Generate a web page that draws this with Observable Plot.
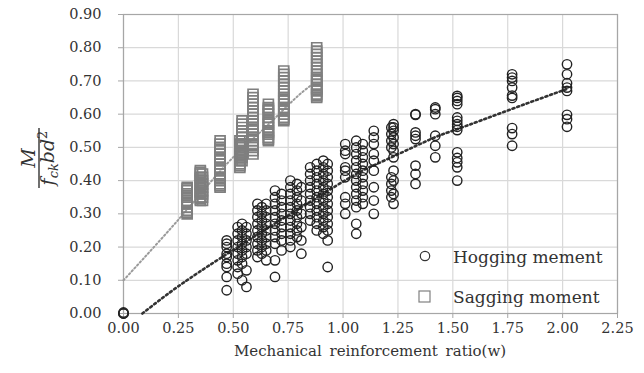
<!DOCTYPE html>
<html><head><meta charset="utf-8">
<script src="https://cdn.jsdelivr.net/npm/d3@7"></script>
<script src="https://cdn.jsdelivr.net/npm/@observablehq/plot@0.6"></script>
<style>
body{margin:0;background:#fff;}
</style>
</head><body><div id="chart"></div>
<script>
// ---- tick values ----
const xTicks = [0, 0.25, 0.5, 0.75, 1.0, 1.25, 1.5, 1.75, 2.0, 2.25];
const yTicks = [0, 0.1, 0.2, 0.3, 0.4, 0.5, 0.6, 0.7, 0.8, 0.9];

// ---- Hogging moment (circles): x of each column and its y values ----
const hogX = [0.0, 0.47, 0.52, 0.54, 0.56, 0.61, 0.63, 0.65, 0.69, 0.72, 0.76, 0.79, 0.81,
  0.85, 0.88, 0.91, 0.93, 1.01, 1.06, 1.09, 1.14, 1.22, 1.23, 1.33, 1.42, 1.52, 1.77, 2.02];
const hogY = [
  [0.0, 0.0, 0.003],
  [0.22, 0.21, 0.20, 0.18, 0.17, 0.15, 0.14, 0.11, 0.07],
  [0.26, 0.24, 0.22, 0.20, 0.18, 0.16, 0.14, 0.12],
  [0.27, 0.25, 0.23, 0.21, 0.19, 0.17, 0.15, 0.10],
  [0.26, 0.24, 0.22, 0.20, 0.18, 0.13, 0.08],
  [0.33, 0.31, 0.29, 0.27, 0.25, 0.23, 0.21, 0.19, 0.17],
  [0.32, 0.30, 0.28, 0.26, 0.24, 0.22, 0.20, 0.18],
  [0.33, 0.31, 0.29, 0.27, 0.25, 0.23, 0.21, 0.19, 0.16],
  [0.37, 0.35, 0.33, 0.31, 0.29, 0.27, 0.25, 0.23, 0.21, 0.16, 0.11],
  [0.36, 0.34, 0.32, 0.30, 0.28, 0.26, 0.24, 0.22, 0.19],
  [0.40, 0.38, 0.36, 0.34, 0.32, 0.30, 0.28, 0.26, 0.24, 0.22, 0.20],
  [0.39, 0.37, 0.35, 0.33, 0.31, 0.29, 0.27, 0.25, 0.23],
  [0.38, 0.34, 0.30, 0.26, 0.22, 0.18],
  [0.44, 0.42, 0.40, 0.38, 0.36, 0.34, 0.32, 0.30, 0.28],
  [0.45, 0.43, 0.41, 0.39, 0.37, 0.35, 0.33, 0.31, 0.29, 0.27, 0.25],
  [0.46, 0.44, 0.42, 0.40, 0.38, 0.36, 0.34, 0.32, 0.30, 0.28, 0.26, 0.24],
  [0.45, 0.43, 0.41, 0.39, 0.37, 0.35, 0.33, 0.31, 0.29, 0.27, 0.25, 0.22, 0.14],
  [0.51, 0.49, 0.48, 0.44, 0.43, 0.41, 0.35, 0.33, 0.30],
  [0.52, 0.50, 0.48, 0.46, 0.44, 0.42, 0.40, 0.38, 0.36, 0.34, 0.32, 0.27, 0.24],
  [0.51, 0.49, 0.47, 0.45, 0.43, 0.41, 0.39, 0.37, 0.35, 0.33],
  [0.55, 0.53, 0.51, 0.48, 0.46, 0.43, 0.38, 0.34, 0.30],
  [0.56, 0.54, 0.52, 0.50, 0.41, 0.39, 0.37, 0.35],
  [0.57, 0.56, 0.55, 0.53, 0.51, 0.49, 0.47, 0.43, 0.40, 0.36, 0.33],
  [0.60, 0.598, 0.545, 0.535, 0.525, 0.445, 0.42, 0.39],
  [0.62, 0.615, 0.60, 0.535, 0.505, 0.47],
  [0.655, 0.649, 0.64, 0.63, 0.59, 0.58, 0.57, 0.562, 0.552, 0.485, 0.468, 0.455, 0.44, 0.40],
  [0.72, 0.71, 0.70, 0.68, 0.656, 0.649, 0.558, 0.54, 0.505],
  [0.75, 0.72, 0.693, 0.68, 0.67, 0.598, 0.585, 0.562]
];

// ---- Sagging moment (squares) ----
const sagX = [0.29, 0.35, 0.36, 0.44, 0.53, 0.54, 0.59, 0.66, 0.73, 0.88];
const sagY = [
  [0.30, 0.305, 0.31, 0.32, 0.33, 0.335, 0.34, 0.35, 0.355, 0.36, 0.37, 0.375, 0.38],
  [0.34, 0.345, 0.35, 0.36, 0.365, 0.37, 0.38, 0.385, 0.39, 0.40, 0.405, 0.41, 0.42, 0.425, 0.43],
  [0.34, 0.35, 0.36, 0.37, 0.38, 0.39, 0.40, 0.41, 0.42],
  [0.38, 0.385, 0.39, 0.40, 0.405, 0.41, 0.42, 0.43, 0.435, 0.44, 0.45, 0.46, 0.465, 0.47, 0.48, 0.49, 0.495, 0.50, 0.51, 0.52],
  [0.44, 0.445, 0.45, 0.46, 0.465, 0.47, 0.48, 0.485, 0.49, 0.50, 0.505, 0.51, 0.52],
  [0.46, 0.47, 0.48, 0.49, 0.50, 0.51, 0.52, 0.53, 0.54, 0.55, 0.56, 0.57, 0.58],
  [0.48, 0.49, 0.50, 0.505, 0.51, 0.52, 0.53, 0.54, 0.55, 0.555, 0.56, 0.57, 0.58, 0.59, 0.60, 0.61, 0.62, 0.63, 0.64, 0.65, 0.66],
  [0.52, 0.525, 0.53, 0.54, 0.545, 0.55, 0.56, 0.57, 0.575, 0.58, 0.59, 0.60, 0.61, 0.615, 0.62, 0.63],
  [0.58, 0.585, 0.59, 0.60, 0.61, 0.615, 0.62, 0.63, 0.64, 0.645, 0.65, 0.66, 0.67, 0.68, 0.69, 0.70, 0.71, 0.72, 0.73],
  [0.65, 0.655, 0.66, 0.67, 0.675, 0.68, 0.69, 0.70, 0.705, 0.71, 0.72, 0.73, 0.74, 0.75, 0.76, 0.77, 0.78, 0.79, 0.80]
];

// ---- trend lines ----
const hogTrendX = [0.086, 0.19, 0.44, 0.97, 1.17, 1.39, 1.52, 1.77, 2.02];
const hogTrendY = [0.0, 0.053, 0.166, 0.385, 0.455, 0.522, 0.555, 0.616, 0.676];
const sagTrendX = [0.0, 0.26, 0.47, 0.63, 0.77, 0.86];
const sagTrendY = [0.10, 0.29, 0.45, 0.55, 0.64, 0.69];

const legendLabels = ["Hogging mement", "Sagging moment"];
const xTitle = "Mechanical reinforcement ratio(w)";

// ---- build tables ----
const hog = hogX.flatMap((x, i) => hogY[i].map(y => ({x, y})));
const sag = sagX.flatMap((x, i) => sagY[i].map(y => ({x, y})));
const hogTrend = hogTrendX.map((x, i) => ({x, y: hogTrendY[i]}));
const sagTrend = sagTrendX.map((x, i) => ({x, y: sagTrendY[i]}));

const FONT = "DejaVu Serif";
const fmt = d3.format(".2f");
const W = 644, H = 373, mL = 123, mR = 27, mT = 14, mB = 60;

const plot = Plot.plot({
  width: W, height: H,
  marginLeft: mL, marginRight: mR, marginTop: mT, marginBottom: mB,
  style: {fontFamily: FONT, fontSize: "14.5px", background: "#fff", color: "#333", overflow: "visible"},
  x: {domain: [0, 2.25]},
  y: {domain: [0, 0.9]},
  marks: [
    Plot.gridX(xTicks, {stroke: "#d9d9d9", strokeOpacity: 1, strokeWidth: 1.2}),
    Plot.gridY(yTicks, {stroke: "#d9d9d9", strokeOpacity: 1, strokeWidth: 1.2}),
    Plot.frame({stroke: "#a6a6a6", strokeWidth: 1.2}),
    Plot.axisX(xTicks, {tickSize: 5, tickPadding: 4, stroke: "#a6a6a6", fill: "#333", tickFormat: fmt, label: null}),
    Plot.axisY(yTicks, {tickSize: 5, tickPadding: 17, stroke: "#a6a6a6", fill: "#333", tickFormat: fmt, label: null}),
    Plot.line(sagTrend, {x: "x", y: "y", stroke: "#9a9a9a", strokeWidth: 2, strokeDasharray: "1.5 2.5", curve: "natural"}),
    Plot.line(hogTrend, {x: "x", y: "y", stroke: "#333", strokeWidth: 2.6, strokeDasharray: "2 3", curve: "natural"}),
    Plot.dot(sag, {x: "x", y: "y", symbol: "square", r: 5.6, stroke: "#7f7f7f", strokeWidth: 1.7, fill: "none"}),
    Plot.dot(hog, {x: "x", y: "y", r: 4.7, stroke: "#222", strokeWidth: 1.4, fill: "none"})
  ]
});

document.getElementById("chart").appendChild(plot);
const svg = d3.select(plot);

// x axis title
svg.append("text")
  .attr("x", 370).attr("y", 356)
  .attr("text-anchor", "middle")
  .attr("font-size", 15).attr("word-spacing", 3)
  .attr("fill", "#333")
  .text(xTitle);

// y axis title: M / (f_ck b d^2)
const g = svg.append("g").attr("transform", "translate(39,158) rotate(-90)").attr("fill", "#333");
g.append("line").attr("x1", -30).attr("x2", 30).attr("y1", 0).attr("y2", 0)
  .attr("stroke", "#333").attr("stroke-width", 1.4);
g.append("text").attr("x", 0).attr("y", -4).attr("text-anchor", "middle")
  .attr("font-size", 19).attr("font-style", "italic").text("M");
const den = g.append("text").attr("x", 0).attr("y", 15).attr("text-anchor", "middle").attr("font-size", 19);
den.append("tspan").attr("font-style", "italic").text("f");
den.append("tspan").attr("font-style", "italic").attr("font-size", 13).attr("dy", 4).text("ck");
den.append("tspan").attr("font-style", "italic").attr("dy", -4).text("bd");
den.append("tspan").attr("font-size", 13).attr("dy", -7).text("2");

// legend
const leg = svg.append("g").attr("font-size", 17).attr("fill", "#333").attr("text-anchor", "start");
leg.append("circle").attr("cx", 425).attr("cy", 256).attr("r", 4.7)
  .attr("fill", "none").attr("stroke", "#333").attr("stroke-width", 1.2);
leg.append("text").attr("x", 453).attr("y", 263).text(legendLabels[0]);
leg.append("rect").attr("x", 419).attr("y", 291).attr("width", 11).attr("height", 11)
  .attr("fill", "none").attr("stroke", "#808080").attr("stroke-width", 1.2);
leg.append("text").attr("x", 453).attr("y", 303).text(legendLabels[1]);

svg.selectAll("text").attr("font-family", FONT).style("font-family", FONT);
</script>
</body></html>
